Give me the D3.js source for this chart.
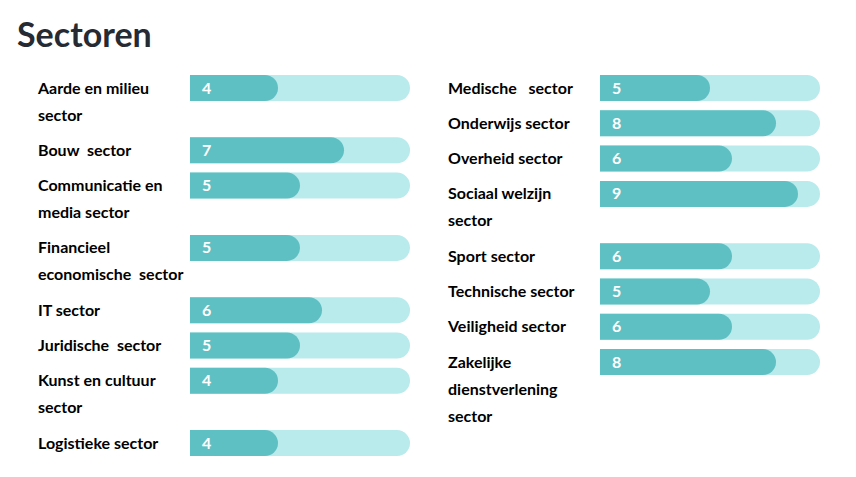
<!DOCTYPE html>
<html>
<head>
<meta charset="utf-8">
<script src="https://cdn.jsdelivr.net/npm/d3@7"></script>
<style>
  body { margin: 0; background: #fff; }
  text { font-family: Lato, sans-serif; }
</style>
</head>
<body>
<div id="chart"></div>
<script>
// data: two columns of sectors, "|" marks a line break in the label
const leftSectors = ["Aarde en milieu|sector", "Bouw  sector", "Communicatie en|media sector", "Financieel|economische  sector",
  "IT sector", "Juridische  sector", "Kunst en cultuur|sector", "Logistieke sector"]
const leftValues = [4, 7, 5, 5, 6, 5, 4, 4]
const rightSectors = ["Medische   sector", "Onderwijs sector", "Overheid sector", "Sociaal welzijn|sector",
  "Sport sector", "Technische sector", "Veiligheid sector", "Zakelijke|dienstverlening|sector"]
const rightValues = [5, 8, 6, 9, 6, 5, 6, 8]
const maxValue = 10

const width = 856, height = 477
const svg = d3.select("#chart").append("svg")
    .attr("width", width)
    .attr("height", height)

// title
svg.append("text")
    .text("Sectoren")
    .attr("x", 17)
    .attr("y", 47)
    .style("font-size", "34px")
    .style("font-weight", "bold")
    .style("fill", "#262b33")

const barH = 26, lineH = 27, gap = 8.3

const x = d3.scaleLinear().domain([0, maxValue]).range([0, 220])

// square on the left, rounded on the right
function barPath(w) {
    const r = barH / 2
    if (w <= r) return `M0,0H${w}V${barH}H0Z`
    return `M0,0H${w - r}A${r},${r} 0 0 1 ${w - r},${barH}H0Z`
}

function drawColumn(names, values, labelX, barX, top) {
    const rows = names.map((n, i) => ({ lines: n.split("|"), value: values[i] }))
    let y = top
    rows.forEach(d => { d.y = y; y += d.lines.length * lineH + gap })

    const g = svg.append("g")
    const row = g.selectAll(".row")
        .data(rows)
        .enter()
        .append("g")
        .attr("class", "row")
        .attr("transform", d => "translate(0," + d.y + ")")

    // label lines
    row.selectAll("text.label")
        .data(d => d.lines)
        .enter()
        .append("text")
        .attr("class", "label")
        .attr("x", labelX)
        .attr("y", (d, i) => barH / 2 + i * lineH)
        .attr("dy", "0.35em")
        .style("white-space", "pre")
        .style("font-size", "16px")
        .style("font-weight", "bold")
        .style("fill", "#000")
        .text(d => d)

    // background track
    row.append("path")
        .attr("transform", "translate(" + barX + ",0)")
        .attr("d", barPath(x(maxValue)))
        .style("fill", "#b9eaec")

    // value bar
    row.append("path")
        .attr("transform", "translate(" + barX + ",0)")
        .attr("d", d => barPath(x(d.value)))
        .style("fill", "#5fc0c3")

    // value label
    row.append("text")
        .text(d => d.value)
        .attr("x", barX + 12)
        .attr("y", barH / 2)
        .attr("dy", "0.35em")
        .style("font-size", "16px")
        .style("font-weight", "bold")
        .style("fill", "#fff")
}

drawColumn(leftSectors, leftValues, 38, 190, 75)
drawColumn(rightSectors, rightValues, 448, 600, 75)
</script>
</body>
</html>
